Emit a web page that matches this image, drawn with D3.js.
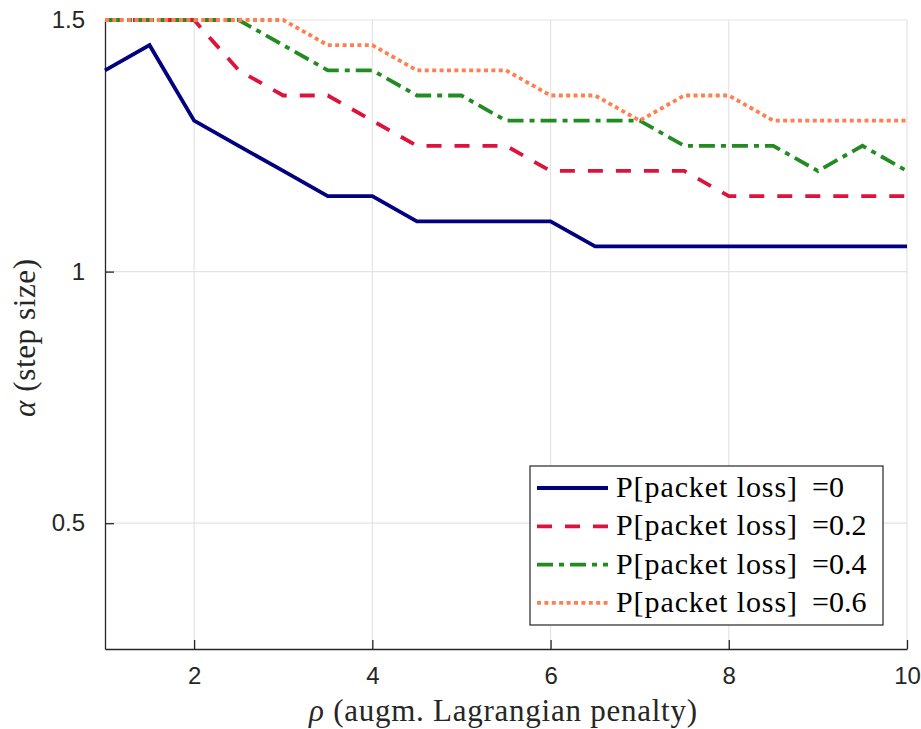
<!DOCTYPE html>
<html>
<head>
<meta charset="utf-8">
<script src="https://cdn.jsdelivr.net/npm/d3@7"></script>
<style>
  body { margin: 0; background: #fff; }
</style>
</head>
<body>
<svg id="chart" width="921" height="729"></svg>
<script>
// rho values (x axis)
const rho = [1, 1.5, 2, 2.5, 3, 3.5, 4, 4.5, 5, 5.5, 6, 6.5, 7, 7.5, 8, 8.5, 9, 9.5, 10];

// best step size alpha for each packet loss probability
const alphaLoss0  = [1.4, 1.45, 1.3, 1.25, 1.2, 1.15, 1.15, 1.1, 1.1, 1.1, 1.1, 1.05, 1.05, 1.05, 1.05, 1.05, 1.05, 1.05, 1.05];
const alphaLoss02 = [1.5, 1.5, 1.5, 1.4, 1.35, 1.35, 1.3, 1.25, 1.25, 1.25, 1.2, 1.2, 1.2, 1.2, 1.15, 1.15, 1.15, 1.15, 1.15];
const alphaLoss04 = [1.5, 1.5, 1.5, 1.5, 1.45, 1.4, 1.4, 1.35, 1.35, 1.3, 1.3, 1.3, 1.3, 1.25, 1.25, 1.25, 1.2, 1.25, 1.2];
const alphaLoss06 = [1.5, 1.5, 1.5, 1.5, 1.5, 1.45, 1.45, 1.4, 1.4, 1.4, 1.35, 1.35, 1.3, 1.35, 1.35, 1.3, 1.3, 1.3, 1.3];

const lossValues = ["0", "0.2", "0.4", "0.6"];
const xTicks = [2, 4, 6, 8, 10];
const yTicks = [0.5, 1, 1.5];

const series = [
    {loss: lossValues[0], values: alphaLoss0,  color: "#000080", dash: null},
    {loss: lossValues[1], values: alphaLoss02, color: "#DC143C", dash: "15,13"},
    {loss: lossValues[2], values: alphaLoss04, color: "#228B22", dash: "16,6,5,6"},
    {loss: lossValues[3], values: alphaLoss06, color: "#FF7F50", dash: "4,3.4"}
];

const serif = "'Liberation Serif', 'DejaVu Serif', serif";
const svg = d3.select("#chart");
const margins = {left: 105, right: 14, top: 20, bottom: 80};
const width = 921, height = 729;

const x = d3.scaleLinear().domain([1, 10]).range([margins.left, width - margins.right]);
const y = d3.scaleLinear().domain([0.25, 1.5]).range([height - margins.bottom, margins.top]);

// grid
const grid = svg.append("g").attr("class", "grid");
grid.selectAll("line.gx")
    .data(xTicks)
    .enter()
    .append("line")
    .attr("class", "gx")
    .attr("x1", d => x(d)).attr("x2", d => x(d))
    .attr("y1", y.range()[0]).attr("y2", y.range()[1])
    .attr("stroke", "#e3e3e3").attr("stroke-width", 1.2);
grid.selectAll("line.gy")
    .data(yTicks)
    .enter()
    .append("line")
    .attr("class", "gy")
    .attr("x1", x.range()[0]).attr("x2", x.range()[1])
    .attr("y1", d => y(d)).attr("y2", d => y(d))
    .attr("stroke", "#e3e3e3").attr("stroke-width", 1.2);

// axes, ticks pointing into the plot
const xAxis = svg.append("g")
    .attr("transform", `translate(0,${y.range()[0]})`)
    .call(d3.axisBottom(x).tickValues(xTicks).tickSizeInner(-9).tickSizeOuter(0).tickPadding(18));
const yAxis = svg.append("g")
    .attr("transform", `translate(${x.range()[0]},0)`)
    .call(d3.axisLeft(y).tickValues(yTicks).tickSizeInner(-9).tickSizeOuter(0).tickPadding(20).tickFormat(d3.format("")));

[xAxis, yAxis].forEach(a => {
    a.attr("font-family", "'Liberation Sans', Arial, sans-serif").attr("font-size", 24);
    a.select(".domain").attr("stroke", "#262626").attr("stroke-width", 1.3);
    a.selectAll(".tick line").attr("stroke", "#262626").attr("stroke-width", 1.3);
    a.selectAll(".tick text").attr("fill", "#262626");
});

// lines
const line = d3.line()
    .x((d, i) => x(rho[i]))
    .y(d => y(d));

svg.append("g").selectAll("path.series")
    .data(series)
    .enter()
    .append("path")
    .attr("class", "series")
    .attr("d", d => line(d.values))
    .attr("fill", "none")
    .attr("stroke", d => d.color)
    .attr("stroke-width", 3.8)
    .attr("stroke-linejoin", "miter")
    .attr("stroke-dasharray", d => d.dash);

// axis labels
svg.append("text")
    .attr("x", 503)
    .attr("y", 721)
    .attr("text-anchor", "middle")
    .attr("font-family", serif)
    .attr("font-size", 31)
    .attr("fill", "#262626")
    .attr("textLength", 388)
    .attr("lengthAdjust", "spacing")
    .html("<tspan font-style='italic'>ρ</tspan> (augm. Lagrangian penalty)");

svg.append("text")
    .attr("transform", "translate(35,338) rotate(-90)")
    .attr("text-anchor", "middle")
    .attr("font-family", serif)
    .attr("font-size", 31)
    .attr("fill", "#262626")
    .attr("textLength", 158)
    .attr("lengthAdjust", "spacing")
    .html("<tspan font-style='italic'>α</tspan> (step size)");

// legend
const legend = svg.append("g").attr("transform", "translate(530,466)");
legend.append("rect")
    .attr("width", 353).attr("height", 159)
    .attr("fill", "#fff")
    .attr("stroke", "#262626").attr("stroke-width", 1.2);

const rows = legend.selectAll("g.row")
    .data(series)
    .enter()
    .append("g")
    .attr("class", "row")
    .attr("transform", (d, i) => `translate(0,${22 + i * 38.3})`);

rows.append("line")
    .attr("x1", 7).attr("x2", 78)
    .attr("stroke", d => d.color)
    .attr("stroke-width", 3.8)
    .attr("stroke-dasharray", d => d.dash);

rows.append("text")
    .attr("x", 86)
    .attr("y", 9)
    .attr("font-family", serif)
    .attr("font-size", 30)
    .attr("fill", "#000")
    .attr("textLength", 181)
    .attr("lengthAdjust", "spacing")
    .text("P[packet loss]");

rows.append("text")
    .attr("x", 282)
    .attr("y", 9)
    .attr("font-family", serif)
    .attr("font-size", 30)
    .attr("fill", "#000")
    .text(d => "=" + d.loss);
</script>
</body>
</html>
